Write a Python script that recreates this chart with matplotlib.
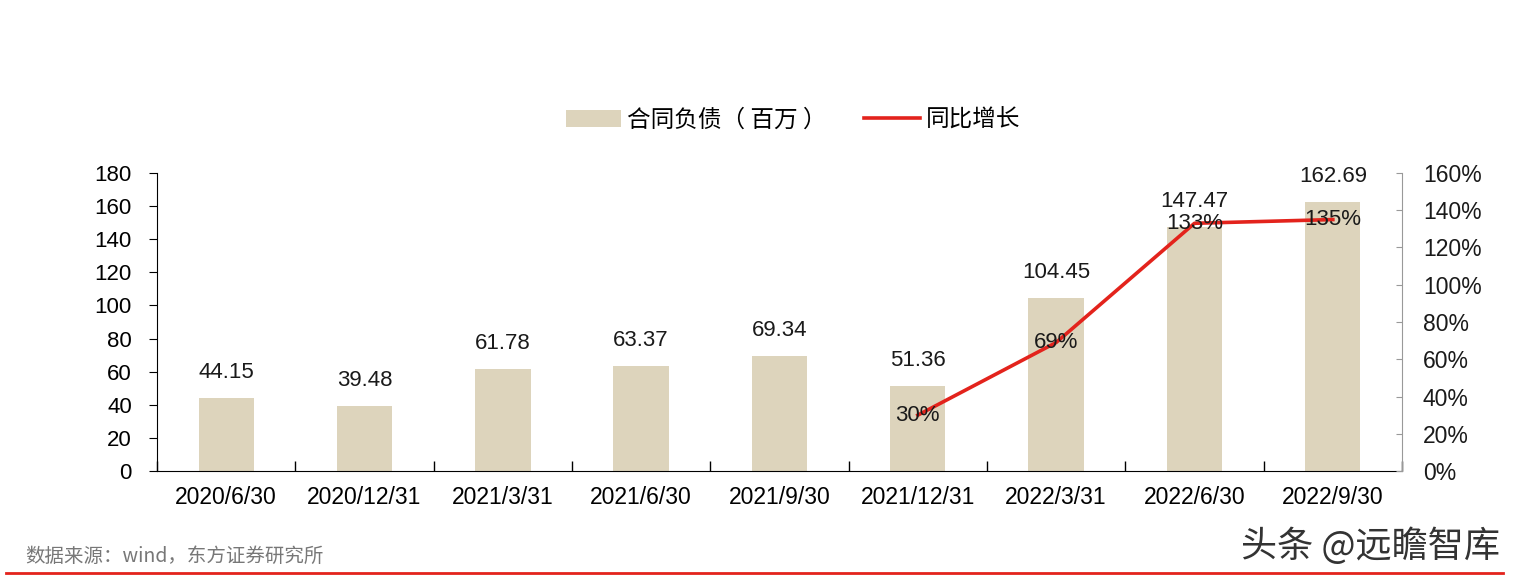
import matplotlib.pyplot as plt
import numpy as np

plt.rcParams['font.family'] = ['Liberation Sans', 'Noto Sans CJK SC', 'DejaVu Sans']

dates = ['2020/6/30', '2020/12/31', '2021/3/31', '2021/6/30', '2021/9/30',
         '2021/12/31', '2022/3/31', '2022/6/30', '2022/9/30']
liab = [44.15, 39.48, 61.78, 63.37, 69.34, 51.36, 104.45, 147.47, 162.69]
# 同比增长 only for the last four periods
yoy_idx = [5, 6, 7, 8]
yoy = [0.30, 0.69, 1.33, 1.35]

x = np.arange(len(dates))

fig = plt.figure(figsize=(15.2, 5.83), dpi=100)
ax = fig.add_axes([157 / 1520, 1 - 471 / 583, (1402 - 157) / 1520, (471 - 173) / 583])
ax2 = ax.twinx()

bars = ax.bar(x, liab, width=0.4, color='#ddd4bc', zorder=2)
line, = ax2.plot(yoy_idx, yoy, color='#e3231c', lw=2.6, zorder=3)

ax.set_xlim(-0.5, len(dates) - 0.5)
ax.set_ylim(0, 180)
ax.set_yticks(np.arange(0, 181, 20))
ax2.set_ylim(0, 1.6)
ax2.set_yticks(np.arange(0, 1.61, 0.2))
ax2.set_yticklabels(['%d%%' % round(v * 100) for v in np.arange(0, 1.61, 0.2)])

for xi, v in zip(x, liab):
    ax.text(xi, v + 9, '%.2f' % v, ha='center', va='bottom', fontsize=16, color='#1a1a1a')
for xi, v in zip(yoy_idx, yoy):
    ax2.text(xi, v, '%d%%' % round(v * 100), ha='center', va='center', fontsize=16,
             color='#1a1a1a', zorder=4)

ax.set_xticks(x)
ax.set_xticklabels(dates, fontsize=16.5)
ax.set_xticks(np.arange(-0.5, len(dates), 1), minor=True)
ax.tick_params(axis='x', which='major', length=0, pad=11)
ax.tick_params(axis='x', which='minor', direction='in', length=7, width=1)
ax.tick_params(axis='y', labelsize=16, length=6, direction='out', pad=12)
ax2.tick_params(axis='y', labelsize=16.5, length=4, direction='in', colors='#999999',
                labelcolor='#1a1a1a', pad=15)

for s in ['top', 'right']:
    ax.spines[s].set_visible(False)
ax2.spines['top'].set_visible(False)
ax2.spines['left'].set_visible(False)
ax2.spines['bottom'].set_visible(False)
ax2.spines['right'].set_color('#999999')

fig.legend(handles=[bars, line], labels=['合同负债（ 百万 ）', '同比增长'],
           loc='center', bbox_to_anchor=(793 / 1520, 1 - 120 / 583), ncol=2,
           frameon=False, handlelength=2.35, columnspacing=1.6,
           handletextpad=0.25, prop={'family': ['Noto Sans CJK SC'], 'size': 17})

fig.text(25 / 1520, 1 - 556 / 583, '数据来源：wind，东方证券研究所', fontsize=14,
         color='#777777', va='center', family=['Noto Sans CJK SC'])
fig.text(1500 / 1520, 1 - 546 / 583, '头条 @远瞻智库', fontsize=26, color='#333333',
         ha='right', va='center', family=['Noto Sans CJK SC'])
fig.add_artist(plt.Line2D([6 / 1520, 1503 / 1520], [1 - 573 / 583] * 2,
                          color='#e3231c', lw=2))

fig.savefig('out.png', dpi=100)
